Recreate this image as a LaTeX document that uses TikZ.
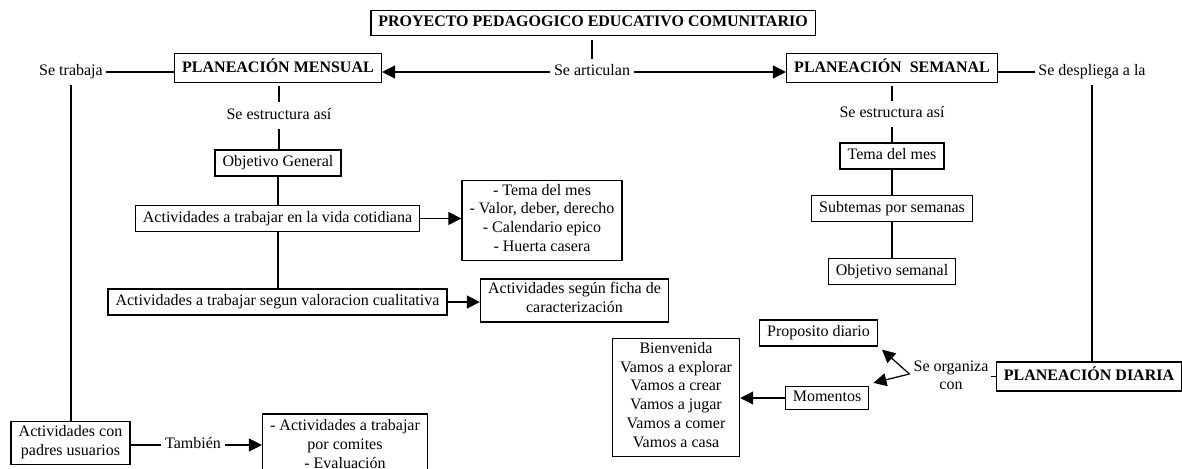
\documentclass[tikz,border=0pt]{standalone}
\usepackage{fontspec}
\setmainfont{Liberation Serif}
\usetikzlibrary{arrows.meta,calc}
\begin{document}
\begin{tikzpicture}[x=1pt,y=-1pt,
  every node/.style={font=\fontsize{16pt}{18.8pt}\selectfont, inner sep=3.5pt, execute at begin node=\strut},
  box/.style={draw, line width=1.5pt, inner xsep=7.5pt, inner ysep=3.5pt},
  bigbox/.style={box, font=\fontsize{16pt}{18.8pt}\selectfont\bfseries, inner ysep=5pt},
  multi/.style={box, align=center},
  conn/.style={line width=1.25pt},
  arr/.style={conn, -{Triangle[length=13pt,width=13pt]}},
]
\useasboundingbox (0,0) rectangle (1182,468);
\clip (0,0) rectangle (1182,468);

% top row
\node (title) [bigbox, inner ysep=3pt] at (593,23) {PROYECTO PEDAGOGICO EDUCATIVO COMUNITARIO};
\node (seart) at (592,72) {Se articulan};
\node (setr) at (71,72) {Se trabaja};
\node (pm) [bigbox] at (278,68) {PLANEACIÓN MENSUAL};
\node (ps) [bigbox] at (892,68) {PLANEACIÓN\ \ SEMANAL};
\node (sedes) at (1092,72) {Se despliega a la};

% left column
\node (seestl) at (279,115.5) {Se estructura así};
\node (og) [box] at (278,163) {Objetivo General};
\node (avc) [box] at (277.5,218.5) {Actividades a trabajar en la vida cotidiana};
\node (list) [multi] at (542,220.5) {- Tema del mes\\- Valor, deber, derecho\\- Calendario epico\\- Huerta casera\strut};
\node (aval) [box] at (277.5,302) {Actividades a trabajar segun valoracion cualitativa};
\node (ficha) [multi] at (574.5,300.5) {Actividades según ficha de\\caracterización\strut};

% bottom left
\node (bl) [multi] at (70.5,443) {Actividades con\\padres usuarios\strut};
\node (tamb) at (193,445) {También};
\node (com) [multi, anchor=north, inner ysep=6pt] at (345,413) {- Actividades a trabajar\\por comites\\- Evaluación\strut};

% right column
\node (seestr) at (892,114) {Se estructura así};
\node (tema) [box] at (892,156) {Tema del mes};
\node (sub) [box] at (892,208.5) {Subtemas por semanas};
\node (obj) [box] at (892,271.5) {Objetivo semanal};

% bottom right
\node (prop) [box] at (818.5,333) {Proposito diario};
\node (bien) [multi] at (676,397.5) {Bienvenida\\Vamos a explorar\\Vamos a crear\\Vamos a jugar\\Vamos a comer\\Vamos a casa\strut};
\node (mom) [box, inner ysep=2pt] at (827,398) {Momentos};
\node (seorg) [align=center, inner sep=2pt] at (951,378) {Se organiza\\con\strut};
\node (pd) [bigbox] at (1089,376.5) {PLANEACIÓN DIARIA};

% connectors
\draw[conn, shorten <=4pt] (title.south -| seart) -- (seart.north);
\draw[arr] (seart.west) -- (seart.west -| pm.east);
\draw[arr] (seart.east) -- (seart.east -| ps.west);
\draw[conn] (setr.east) -- (setr.east -| pm.west);
\draw[conn] (sedes.west -| ps.east) -- (sedes.west);
\draw[conn] (setr.south) -- (setr.south |- bl.north);
\draw[conn] (sedes.south) -- (sedes.south |- pd.north);

\draw[conn, shorten <=3pt] (seestl.north |- pm.south) -- (seestl.north);
\draw[conn] (seestl.south) -- (seestl.south |- og.north);
\draw[conn] (og.south) -- (og.south |- avc.north);
\draw[conn] (og.south |- avc.south) -- (og.south |- aval.north);
\draw[arr] (avc.east) -- (avc.east -| list.west);
\draw[arr] (aval.east) -- (aval.east -| ficha.west);

\draw[conn] (bl.east |- tamb.west) -- (tamb.west);
\draw[arr] (tamb.east) -- (tamb.east -| com.west);

\draw[conn, shorten <=3pt] (ps.south) -- (seestr.north);
\draw[conn] (seestr.south) -- (tema.north);
\draw[conn] (tema.south) -- (sub.north);
\draw[conn] (sub.south) -- (obj.north);

\draw[arr] (mom.west) -- (mom.west -| bien.east);
\coordinate (orgpt) at ($(seorg.west)+(-2,-4)$);
\coordinate (proptip) at ($(prop.south east)+(4,3)$);
\coordinate (momtip) at ($(mom.north east)+(4,-3)$);
\draw[arr] (orgpt) -- (proptip);
\draw[arr] (orgpt) -- (momtip);
\draw[conn] (seorg.east |- pd.west) -- (pd.west);
\end{tikzpicture}
\end{document}
